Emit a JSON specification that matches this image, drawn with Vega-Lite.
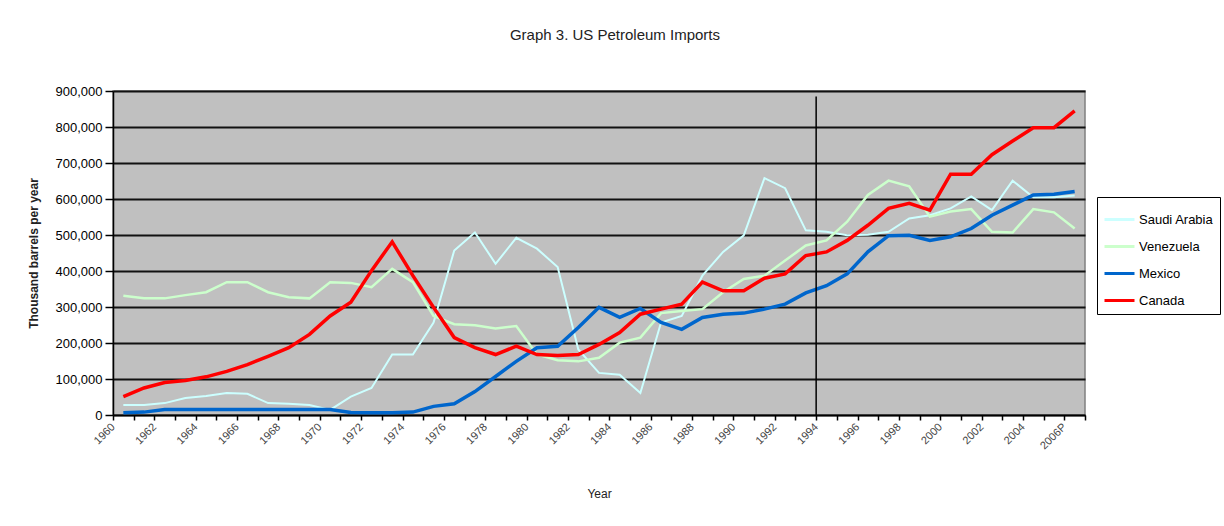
{
  "$schema": "https://vega.github.io/schema/vega-lite/v6.json",
  "width": 972,
  "height": 324,
  "autosize": {"type": "none"},
  "padding": {"left": 113, "top": 91, "right": 139, "bottom": 111},
  "background": "white",
  "title": {"text": "Graph 3. US Petroleum Imports", "fontSize": 15, "font": "Liberation Sans", "fontWeight": "normal", "color": "#222", "offset": 42, "dx": 16, "anchor": "middle", "frame": "group"},
  "config": {"view": {"fill": "#C0C0C0", "stroke": "#808080", "strokeWidth": 1.5}, "font": "Liberation Sans"},
  "data": {"values": [
    {"Year":1960,"Country":"Saudi Arabia","Imports":28000},{"Year":1961,"Country":"Saudi Arabia","Imports":28000},{"Year":1962,"Country":"Saudi Arabia","Imports":33000},{"Year":1963,"Country":"Saudi Arabia","Imports":47000},{"Year":1964,"Country":"Saudi Arabia","Imports":53000},{"Year":1965,"Country":"Saudi Arabia","Imports":61000},{"Year":1966,"Country":"Saudi Arabia","Imports":59000},{"Year":1967,"Country":"Saudi Arabia","Imports":33000},{"Year":1968,"Country":"Saudi Arabia","Imports":31000},{"Year":1969,"Country":"Saudi Arabia","Imports":28000},
    {"Year":1970,"Country":"Saudi Arabia","Imports":14000},{"Year":1971,"Country":"Saudi Arabia","Imports":51000},{"Year":1972,"Country":"Saudi Arabia","Imports":75000},{"Year":1973,"Country":"Saudi Arabia","Imports":168000},{"Year":1974,"Country":"Saudi Arabia","Imports":168000},{"Year":1975,"Country":"Saudi Arabia","Imports":257000},{"Year":1976,"Country":"Saudi Arabia","Imports":457000},{"Year":1977,"Country":"Saudi Arabia","Imports":507000},{"Year":1978,"Country":"Saudi Arabia","Imports":420000},{"Year":1979,"Country":"Saudi Arabia","Imports":492000},
    {"Year":1980,"Country":"Saudi Arabia","Imports":462000},{"Year":1981,"Country":"Saudi Arabia","Imports":411000},{"Year":1982,"Country":"Saudi Arabia","Imports":182000},{"Year":1983,"Country":"Saudi Arabia","Imports":117000},{"Year":1984,"Country":"Saudi Arabia","Imports":112000},{"Year":1985,"Country":"Saudi Arabia","Imports":61000},{"Year":1986,"Country":"Saudi Arabia","Imports":257000},{"Year":1987,"Country":"Saudi Arabia","Imports":275000},{"Year":1988,"Country":"Saudi Arabia","Imports":387000},{"Year":1989,"Country":"Saudi Arabia","Imports":453000},
    {"Year":1990,"Country":"Saudi Arabia","Imports":499000},{"Year":1991,"Country":"Saudi Arabia","Imports":658000},{"Year":1992,"Country":"Saudi Arabia","Imports":630000},{"Year":1993,"Country":"Saudi Arabia","Imports":513000},{"Year":1994,"Country":"Saudi Arabia","Imports":509000},{"Year":1995,"Country":"Saudi Arabia","Imports":499000},{"Year":1996,"Country":"Saudi Arabia","Imports":501000},{"Year":1997,"Country":"Saudi Arabia","Imports":509000},{"Year":1998,"Country":"Saudi Arabia","Imports":546000},{"Year":1999,"Country":"Saudi Arabia","Imports":555000},
    {"Year":2000,"Country":"Saudi Arabia","Imports":574000},{"Year":2001,"Country":"Saudi Arabia","Imports":607000},{"Year":2002,"Country":"Saudi Arabia","Imports":569000},{"Year":2003,"Country":"Saudi Arabia","Imports":651000},{"Year":2004,"Country":"Saudi Arabia","Imports":605000},{"Year":2005,"Country":"Saudi Arabia","Imports":605000},{"Year":2006,"Country":"Saudi Arabia","Imports":610000},
    {"Year":1960,"Country":"Venezuela","Imports":331000},{"Year":1961,"Country":"Venezuela","Imports":324000},{"Year":1962,"Country":"Venezuela","Imports":324000},{"Year":1963,"Country":"Venezuela","Imports":333000},{"Year":1964,"Country":"Venezuela","Imports":341000},{"Year":1965,"Country":"Venezuela","Imports":369000},{"Year":1966,"Country":"Venezuela","Imports":369000},{"Year":1967,"Country":"Venezuela","Imports":341000},{"Year":1968,"Country":"Venezuela","Imports":327000},{"Year":1969,"Country":"Venezuela","Imports":324000},
    {"Year":1970,"Country":"Venezuela","Imports":369000},{"Year":1971,"Country":"Venezuela","Imports":367000},{"Year":1972,"Country":"Venezuela","Imports":355000},{"Year":1973,"Country":"Venezuela","Imports":406000},{"Year":1974,"Country":"Venezuela","Imports":369000},{"Year":1975,"Country":"Venezuela","Imports":275000},{"Year":1976,"Country":"Venezuela","Imports":252000},{"Year":1977,"Country":"Venezuela","Imports":249000},{"Year":1978,"Country":"Venezuela","Imports":240000},{"Year":1979,"Country":"Venezuela","Imports":247000},
    {"Year":1980,"Country":"Venezuela","Imports":168000},{"Year":1981,"Country":"Venezuela","Imports":152000},{"Year":1982,"Country":"Venezuela","Imports":149000},{"Year":1983,"Country":"Venezuela","Imports":159000},{"Year":1984,"Country":"Venezuela","Imports":201000},{"Year":1985,"Country":"Venezuela","Imports":215000},{"Year":1986,"Country":"Venezuela","Imports":283000},{"Year":1987,"Country":"Venezuela","Imports":289000},{"Year":1988,"Country":"Venezuela","Imports":294000},{"Year":1989,"Country":"Venezuela","Imports":341000},
    {"Year":1990,"Country":"Venezuela","Imports":378000},{"Year":1991,"Country":"Venezuela","Imports":387000},{"Year":1992,"Country":"Venezuela","Imports":429000},{"Year":1993,"Country":"Venezuela","Imports":471000},{"Year":1994,"Country":"Venezuela","Imports":485000},{"Year":1995,"Country":"Venezuela","Imports":537000},{"Year":1996,"Country":"Venezuela","Imports":611000},{"Year":1997,"Country":"Venezuela","Imports":651000},{"Year":1998,"Country":"Venezuela","Imports":635000},{"Year":1999,"Country":"Venezuela","Imports":551000},
    {"Year":2000,"Country":"Venezuela","Imports":565000},{"Year":2001,"Country":"Venezuela","Imports":572000},{"Year":2002,"Country":"Venezuela","Imports":509000},{"Year":2003,"Country":"Venezuela","Imports":507000},{"Year":2004,"Country":"Venezuela","Imports":572000},{"Year":2005,"Country":"Venezuela","Imports":563000},{"Year":2006,"Country":"Venezuela","Imports":518000},
    {"Year":1960,"Country":"Mexico","Imports":6000},{"Year":1961,"Country":"Mexico","Imports":8000},{"Year":1962,"Country":"Mexico","Imports":15000},{"Year":1963,"Country":"Mexico","Imports":15000},{"Year":1964,"Country":"Mexico","Imports":15000},{"Year":1965,"Country":"Mexico","Imports":15000},{"Year":1966,"Country":"Mexico","Imports":15000},{"Year":1967,"Country":"Mexico","Imports":15000},{"Year":1968,"Country":"Mexico","Imports":15000},{"Year":1969,"Country":"Mexico","Imports":15000},
    {"Year":1970,"Country":"Mexico","Imports":15000},{"Year":1971,"Country":"Mexico","Imports":7000},{"Year":1972,"Country":"Mexico","Imports":6000},{"Year":1973,"Country":"Mexico","Imports":6000},{"Year":1974,"Country":"Mexico","Imports":8000},{"Year":1975,"Country":"Mexico","Imports":24000},{"Year":1976,"Country":"Mexico","Imports":31000},{"Year":1977,"Country":"Mexico","Imports":65000},{"Year":1978,"Country":"Mexico","Imports":107000},{"Year":1979,"Country":"Mexico","Imports":149000},
    {"Year":1980,"Country":"Mexico","Imports":187000},{"Year":1981,"Country":"Mexico","Imports":191000},{"Year":1982,"Country":"Mexico","Imports":243000},{"Year":1983,"Country":"Mexico","Imports":299000},{"Year":1984,"Country":"Mexico","Imports":271000},{"Year":1985,"Country":"Mexico","Imports":296000},{"Year":1986,"Country":"Mexico","Imports":257000},{"Year":1987,"Country":"Mexico","Imports":238000},{"Year":1988,"Country":"Mexico","Imports":271000},{"Year":1989,"Country":"Mexico","Imports":280000},
    {"Year":1990,"Country":"Mexico","Imports":283000},{"Year":1991,"Country":"Mexico","Imports":294000},{"Year":1992,"Country":"Mexico","Imports":308000},{"Year":1993,"Country":"Mexico","Imports":339000},{"Year":1994,"Country":"Mexico","Imports":359000},{"Year":1995,"Country":"Mexico","Imports":392000},{"Year":1996,"Country":"Mexico","Imports":453000},{"Year":1997,"Country":"Mexico","Imports":498000},{"Year":1998,"Country":"Mexico","Imports":499000},{"Year":1999,"Country":"Mexico","Imports":485000},
    {"Year":2000,"Country":"Mexico","Imports":495000},{"Year":2001,"Country":"Mexico","Imports":518000},{"Year":2002,"Country":"Mexico","Imports":555000},{"Year":2003,"Country":"Mexico","Imports":583000},{"Year":2004,"Country":"Mexico","Imports":611000},{"Year":2005,"Country":"Mexico","Imports":613000},{"Year":2006,"Country":"Mexico","Imports":621000},
    {"Year":1960,"Country":"Canada","Imports":51000},{"Year":1961,"Country":"Canada","Imports":75000},{"Year":1962,"Country":"Canada","Imports":90000},{"Year":1963,"Country":"Canada","Imports":96000},{"Year":1964,"Country":"Canada","Imports":106000},{"Year":1965,"Country":"Canada","Imports":121000},{"Year":1966,"Country":"Canada","Imports":140000},{"Year":1967,"Country":"Canada","Imports":163000},{"Year":1968,"Country":"Canada","Imports":187000},{"Year":1969,"Country":"Canada","Imports":224000},
    {"Year":1970,"Country":"Canada","Imports":275000},{"Year":1971,"Country":"Canada","Imports":313000},{"Year":1972,"Country":"Canada","Imports":401000},{"Year":1973,"Country":"Canada","Imports":481000},{"Year":1974,"Country":"Canada","Imports":387000},{"Year":1975,"Country":"Canada","Imports":299000},{"Year":1976,"Country":"Canada","Imports":215000},{"Year":1977,"Country":"Canada","Imports":187000},{"Year":1978,"Country":"Canada","Imports":168000},{"Year":1979,"Country":"Canada","Imports":191000},
    {"Year":1980,"Country":"Canada","Imports":168000},{"Year":1981,"Country":"Canada","Imports":165000},{"Year":1982,"Country":"Canada","Imports":168000},{"Year":1983,"Country":"Canada","Imports":196000},{"Year":1984,"Country":"Canada","Imports":229000},{"Year":1985,"Country":"Canada","Imports":280000},{"Year":1986,"Country":"Canada","Imports":294000},{"Year":1987,"Country":"Canada","Imports":308000},{"Year":1988,"Country":"Canada","Imports":369000},{"Year":1989,"Country":"Canada","Imports":345000},
    {"Year":1990,"Country":"Canada","Imports":345000},{"Year":1991,"Country":"Canada","Imports":380000},{"Year":1992,"Country":"Canada","Imports":392000},{"Year":1993,"Country":"Canada","Imports":443000},{"Year":1994,"Country":"Canada","Imports":453000},{"Year":1995,"Country":"Canada","Imports":485000},{"Year":1996,"Country":"Canada","Imports":527000},{"Year":1997,"Country":"Canada","Imports":574000},{"Year":1998,"Country":"Canada","Imports":588000},{"Year":1999,"Country":"Canada","Imports":569000},
    {"Year":2000,"Country":"Canada","Imports":669000},{"Year":2001,"Country":"Canada","Imports":669000},{"Year":2002,"Country":"Canada","Imports":723000},{"Year":2003,"Country":"Canada","Imports":761000},{"Year":2004,"Country":"Canada","Imports":798000},{"Year":2005,"Country":"Canada","Imports":798000},{"Year":2006,"Country":"Canada","Imports":845000}
  ]},
  "encoding": {
    "x": {
      "field": "Year", "type": "quantitative",
      "scale": {"domain": [1959.5, 2006.5], "nice": false, "zero": false},
      "axis": {
        "title": "Year",
        "values": [1959.5,1960.5,1961.5,1962.5,1963.5,1964.5,1965.5,1966.5,1967.5,1968.5,1969.5,1970.5,1971.5,1972.5,1973.5,1974.5,1975.5,1976.5,1977.5,1978.5,1979.5,1980.5,1981.5,1982.5,1983.5,1984.5,1985.5,1986.5,1987.5,1988.5,1989.5,1990.5,1991.5,1992.5,1993.5,1994.5,1995.5,1996.5,1997.5,1998.5,1999.5,2000.5,2001.5,2002.5,2003.5,2004.5,2005.5,2006.5],
        "labelExpr": "(datum.value + 0.5) % 2 == 0 ? ((datum.value + 0.5) == 2006 ? '2006P' : toString(datum.value + 0.5)) : ''",
        "labelAngle": -45, "labelAlign": "right", "labelBaseline": "middle",
        "labelFontSize": 11, "labelColor": "#444", "labelPadding": 5,
        "labelOverlap": false, "labelFlush": false, "labelBound": false,
        "tickColor": "black", "tickSize": 5, "tickWidth": 1.5,
        "domainColor": "black", "domainWidth": 1.5, "grid": false,
        "titleX": 486, "titleY": 78, "titleBaseline": "middle", "titleFontSize": 12, "titleFontWeight": "normal", "titleColor": "#222"
      }
    },
    "y": {
      "field": "Imports", "type": "quantitative",
      "scale": {"domain": [0, 900000], "nice": false},
      "axis": {
        "title": "Thousand barrels per year",
        "values": [0,100000,200000,300000,400000,500000,600000,700000,800000,900000],
        "format": ",d", "labelFontSize": 13, "labelColor": "black", "labelPadding": 3,
        "tickColor": "black", "tickSize": 8, "tickWidth": 1.5,
        "domainColor": "black", "domainWidth": 1.5,
        "grid": true, "gridColor": "#111", "gridWidth": 1.8, "gridOpacity": 1,
        "titleX": -80, "titleY": 162, "titleAngle": -90, "titleAlign": "center", "titleBaseline": "middle",
        "titleFontSize": 12, "titleFontWeight": "bold", "titleColor": "#222"
      }
    },
    "color": {
      "field": "Country", "type": "nominal",
      "scale": {"domain": ["Saudi Arabia", "Venezuela", "Mexico", "Canada"], "range": ["#CCFFFF", "#CCFFCC", "#0066CC", "#FF0000"]},
      "legend": {
        "orient": "none", "legendX": 984, "legendY": 106, "title": null,
        "strokeColor": "black", "fillColor": "white", "padding": 6,
        "symbolType": "stroke", "symbolSize": 900, "symbolStrokeWidth": 3,
        "labelFontSize": 13, "labelColor": "black", "rowPadding": 3, "labelOffset": 3
      }
    }
  },
  "layer": [
    {"transform": [{"filter": "datum.Country == 'Saudi Arabia'"}], "mark": {"type": "line", "strokeWidth": 2}},
    {"transform": [{"filter": "datum.Country == 'Venezuela'"}], "mark": {"type": "line", "strokeWidth": 2.5}},
    {"transform": [{"filter": "datum.Country == 'Mexico'"}], "mark": {"type": "line", "strokeWidth": 3.5}},
    {"transform": [{"filter": "datum.Country == 'Canada'"}], "mark": {"type": "line", "strokeWidth": 3.5}},
    {
      "transform": [{"filter": "datum.Country == 'Canada' && datum.Year == 1994"}],
      "mark": {"type": "rule", "color": "black", "strokeWidth": 1.5},
      "encoding": {
        "x": {"datum": 1993.5, "type": "quantitative"},
        "y": {"datum": 0, "type": "quantitative"},
        "y2": {"datum": 885000},
        "color": {"value": "black"}
      }
    }
  ]
}
